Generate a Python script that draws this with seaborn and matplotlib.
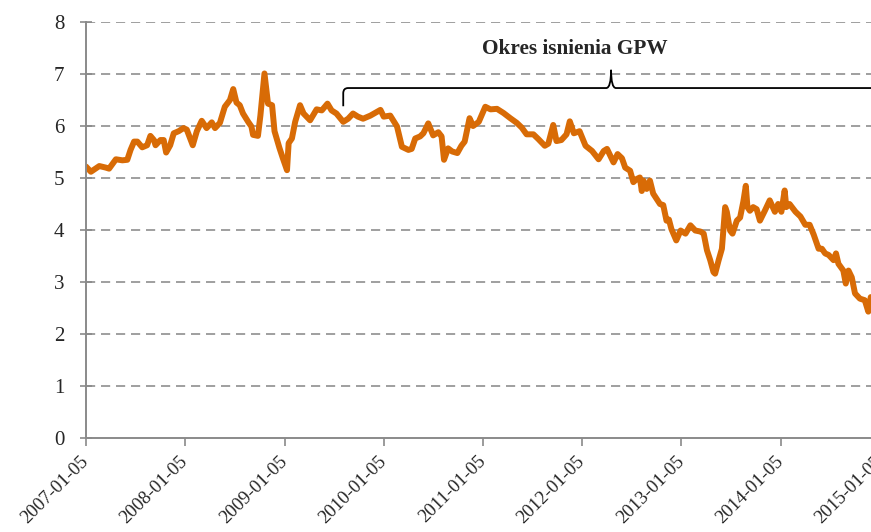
import matplotlib
matplotlib.use("Agg")
import matplotlib.pyplot as plt
import matplotlib.dates as mdates
from matplotlib.path import Path
from matplotlib.patches import PathPatch
import seaborn as sns
import pandas as pd

dates = [
    "2007-01-05", "2007-01-23", "2007-02-23", "2007-03-19", "2007-03-31", "2007-04-25",
    "2007-05-19", "2007-06-06", "2007-06-18", "2007-07-01", "2007-07-13", "2007-07-31",
    "2007-08-18", "2007-08-30", "2007-09-12", "2007-09-18", "2007-10-06", "2007-10-18",
    "2007-10-27", "2007-11-11", "2007-11-24", "2007-12-12", "2007-12-30", "2008-01-11",
    "2008-02-02", "2008-02-17", "2008-03-06", "2008-03-24", "2008-04-12", "2008-04-24",
    "2008-05-12", "2008-05-30", "2008-06-18", "2008-06-30", "2008-07-12", "2008-07-24",
    "2008-08-05", "2008-08-24", "2008-09-05", "2008-09-11", "2008-09-29", "2008-10-08",
    "2008-10-23", "2008-11-05", "2008-11-20", "2008-11-29", "2008-12-17", "2008-12-29",
    "2009-01-14", "2009-01-20", "2009-02-01", "2009-02-13", "2009-03-03", "2009-03-16",
    "2009-04-09", "2009-05-03", "2009-05-22", "2009-06-12", "2009-06-27", "2009-07-15",
    "2009-08-09", "2009-08-27", "2009-09-14", "2009-10-02", "2009-10-21", "2009-11-17",
    "2009-12-24", "2010-01-05", "2010-01-29", "2010-02-23", "2010-03-13", "2010-04-06",
    "2010-04-18", "2010-05-01", "2010-05-19", "2010-05-31", "2010-06-18", "2010-07-06",
    "2010-07-25", "2010-08-06", "2010-08-15", "2010-08-30", "2010-09-14", "2010-10-03",
    "2010-10-18", "2010-10-30", "2010-11-17", "2010-11-30", "2010-12-21", "2011-01-14",
    "2011-02-02", "2011-02-26", "2011-03-22", "2011-04-16", "2011-05-10", "2011-05-28",
    "2011-06-15", "2011-07-10", "2011-07-28", "2011-08-21", "2011-09-03", "2011-09-21",
    "2011-10-03", "2011-10-21", "2011-11-09", "2011-11-21", "2011-12-06", "2011-12-27",
    "2012-01-18", "2012-01-30", "2012-02-11", "2012-03-06", "2012-03-25", "2012-04-06",
    "2012-04-30", "2012-05-15", "2012-05-31", "2012-06-12", "2012-06-30", "2012-07-12",
    "2012-07-24", "2012-08-05", "2012-08-12", "2012-08-18", "2012-08-30", "2012-09-11",
    "2012-09-23", "2012-10-18", "2012-10-30", "2012-11-11", "2012-11-20", "2012-11-29",
    "2012-12-17", "2013-01-02", "2013-01-20", "2013-02-07", "2013-02-25", "2013-03-16",
    "2013-03-28", "2013-04-09", "2013-04-21", "2013-05-03", "2013-05-09", "2013-05-22",
    "2013-06-03", "2013-06-15", "2013-06-21", "2013-07-03", "2013-07-12", "2013-07-28",
    "2013-08-09", "2013-08-21", "2013-08-30", "2013-09-05", "2013-09-14", "2013-09-26",
    "2013-10-09", "2013-10-21", "2013-11-08", "2013-11-26", "2013-12-15", "2013-12-27",
    "2014-01-08", "2014-01-20", "2014-01-26", "2014-02-07", "2014-03-01", "2014-03-19",
    "2014-04-06", "2014-04-22", "2014-05-07", "2014-05-25", "2014-06-06", "2014-06-18",
    "2014-07-01", "2014-07-19", "2014-07-28", "2014-08-06", "2014-08-24", "2014-09-02",
    "2014-09-12", "2014-09-24", "2014-10-06", "2014-10-24", "2014-11-11", "2014-11-24",
    "2014-12-03", "2014-12-21",
]
values = [
    5.22, 5.12, 5.23, 5.20, 5.18, 5.36,
    5.34, 5.35, 5.54, 5.70, 5.70, 5.59,
    5.63, 5.81, 5.73, 5.63, 5.73, 5.73,
    5.49, 5.63, 5.86, 5.90, 5.96, 5.93,
    5.63, 5.90, 6.10, 5.96, 6.07, 5.96,
    6.06, 6.37, 6.50, 6.71, 6.45, 6.40,
    6.24, 6.08, 5.99, 5.83, 5.81, 6.20,
    7.01, 6.43, 6.40, 5.90, 5.58, 5.39,
    5.15, 5.67, 5.76, 6.08, 6.40, 6.24,
    6.11, 6.32, 6.30, 6.43, 6.30, 6.24,
    6.08, 6.14, 6.24, 6.18, 6.14, 6.20,
    6.31, 6.18, 6.20, 5.99, 5.60, 5.54,
    5.56, 5.76, 5.80, 5.86, 6.05, 5.82,
    5.88, 5.80, 5.35, 5.57, 5.51, 5.48,
    5.62, 5.70, 6.15, 6.00, 6.08, 6.37,
    6.32, 6.33, 6.25, 6.15, 6.06, 5.97,
    5.84, 5.84, 5.75, 5.62, 5.66, 6.02,
    5.71, 5.73, 5.84, 6.09, 5.86, 5.90,
    5.62, 5.57, 5.52, 5.36, 5.52, 5.56,
    5.30, 5.46, 5.38, 5.20, 5.14, 4.92,
    4.98, 5.01, 4.75, 4.95, 4.79, 4.95,
    4.70, 4.50, 4.48, 4.18, 4.20, 4.02,
    3.80, 3.99, 3.93, 4.09, 3.99, 3.97,
    3.93, 3.61, 3.42, 3.19, 3.16, 3.42,
    3.64, 4.44, 4.35, 3.99, 3.93, 4.18,
    4.24, 4.55, 4.85, 4.44, 4.37, 4.44,
    4.40, 4.18, 4.37, 4.57, 4.35, 4.50,
    4.35, 4.76, 4.44, 4.50, 4.35, 4.26,
    4.10, 4.10, 3.91, 3.64, 3.64, 3.55,
    3.52, 3.42, 3.55, 3.35, 3.22, 2.97,
    3.22, 3.09, 2.78, 2.68, 2.65, 2.43,
    2.71, 2.60,
]
tick_dates = ["2007-01-05", "2008-01-05", "2009-01-05", "2010-01-05", "2011-01-05",
              "2012-01-05", "2013-01-05", "2014-01-05", "2015-01-05"]
y_ticks = [0, 1, 2, 3, 4, 5, 6, 7, 8]
annotation = "Okres isnienia GPW"
brace_start, brace_mid, brace_end = "2009-08-09", "2012-04-21", "2015-01-05"
text_date = "2011-12-10"

df = pd.DataFrame({"date": pd.to_datetime(dates), "value": values})

sns.set_style("white")
plt.rcParams["font.family"] = ["Liberation Serif", "DejaVu Serif"]

fig = plt.figure(figsize=(8.71, 5.32), dpi=100)
ax = fig.add_axes([86 / 871, 94 / 532, 794 / 871, 416 / 532])

sns.lineplot(data=df, x="date", y="value", ax=ax, color="#D86B06", linewidth=4.3,
             solid_joinstyle="round", solid_capstyle="round")

ax.set_xlim(pd.Timestamp("2007-01-05"), pd.Timestamp("2015-01-06"))
ax.set_ylim(0, 8)
ax.set_yticks(y_ticks)
ax.set_xticks(pd.to_datetime(tick_dates))
ax.set_xticklabels(tick_dates, rotation=45, ha="right", va="center", rotation_mode="anchor")
ax.set_xlabel("")
ax.set_ylabel("")

for y in y_ticks[1:]:
    ax.axhline(y, color="#8f8f8f", linewidth=1.2, linestyle=(0, (5.5, 3.5)), zorder=0)

for s in ["top", "right"]:
    ax.spines[s].set_visible(False)
for s in ["left", "bottom"]:
    ax.spines[s].set_color("#8a8a8a")
    ax.spines[s].set_linewidth(1.4)

ax.tick_params(axis="y", direction="inout", length=9, width=1.2, color="#8a8a8a",
               labelsize=15, pad=11, left=True)
ax.tick_params(axis="x", direction="out", length=6, width=1.2, color="#8a8a8a",
               labelsize=13.5, pad=9, bottom=True)

# brace
xl = mdates.date2num(pd.Timestamp(brace_start))
xc = mdates.date2num(pd.Timestamp(brace_mid))
xr = mdates.date2num(pd.Timestamp(brace_end))
yl, ye, yt, r, d = 6.73, 6.38, 7.08, 0.1, 18
verts = [(xl, ye), (xl, yl - r), (xl, yl), (xl + d, yl), (xc - d, yl), (xc, yl), (xc, yt),
         (xc, yl), (xc + d, yl), (xr - d, yl), (xr, yl), (xr, yl - r), (xr, ye)]
codes = [Path.MOVETO, Path.LINETO, Path.CURVE3, Path.CURVE3, Path.LINETO, Path.CURVE3,
         Path.CURVE3, Path.CURVE3, Path.CURVE3, Path.LINETO, Path.CURVE3, Path.CURVE3,
         Path.LINETO]
ax.add_patch(PathPatch(Path(verts, codes), facecolor="none", edgecolor="black",
                       linewidth=1.3, clip_on=False))
ax.text(pd.Timestamp(text_date), 7.48, annotation, ha="center", va="center",
        fontsize=15.3, fontweight="bold")

fig.savefig("out.png", dpi=100)
